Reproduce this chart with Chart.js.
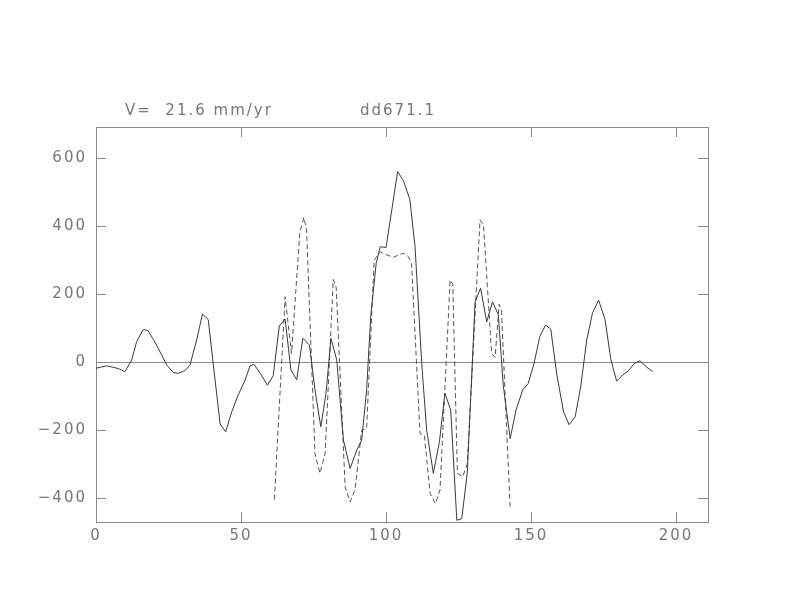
<!DOCTYPE html>
<html>
<head>
<meta charset="utf-8">
<script src="https://cdn.jsdelivr.net/npm/chart.js@4"></script>
<style>
  html, body { margin: 0; padding: 0; background: #fff; }
  canvas { display: block; }
</style>
</head>
<body>
<canvas id="profileChart" width="792" height="612"></canvas>
<script>
// values
var observedX = [0, 3.7, 7.7, 10, 12.3, 14, 16.3, 18, 20.9, 24.4, 26.7, 28.4, 30.7, 32.4, 34.7, 36.7, 38.7, 40.4, 42.8, 44.7,
  46.8, 49, 51.4, 53.1, 54.5, 57, 59.1, 61.1, 63.2, 65.2, 67.2, 69.2, 71.3, 73.6, 75.5, 77.5, 79.3, 81, 83, 85.3,
  87.6, 89.9, 91.6, 93.3, 94.7, 96.6, 98, 100, 104, 106, 108.2, 110, 112.3, 114, 116.3, 118.4, 120.3, 122.3, 124.4, 126.1,
  128, 130.7, 132.6, 134.7, 136.7, 138.7, 140.4, 142.8, 144.8, 147.1, 149, 151, 153, 155, 156.8, 158.8, 161.2, 163.1, 165.2, 167.1,
  169.2, 171.2, 173.3, 175.5, 177.5, 179.5, 181.6, 183.6, 185.6, 187.6, 189.7, 191.9];
var observedY = [-18, -11, -19, -28, 6, 60, 96, 92, 50, -9, -31, -33, -25, -9, 65, 141, 125, -4, -182, -205,
  -146, -97, -53, -11, -7, -38, -68, -40, 106, 127, -23, -52, 70, 50, -82, -190, -92, 70, 6, -229,
  -313, -259, -229, -82, 133, 290, 339, 337, 560, 533, 478, 339, -4, -200, -327, -234, -92, -141, -465, -460,
  -327, 177, 217, 118, 177, 140, -68, -225, -141, -82, -63, -5, 75, 109, 97, -33, -146, -184, -161, -73,
  65, 145, 182, 125, 8, -56, -38, -25, -4, 4, -14, -28];

var modelX = [61.5, 65.2, 67.4, 70.3, 71.7, 72.6, 75.5, 77.2, 79, 81.8, 82.8, 85.9, 87.6, 89.3, 91.6, 93.3, 95.9, 98, 100.2, 102.5,
  104.4, 106, 107.7, 108.8, 111.7, 113.2, 115.2, 117, 118.6, 122.1, 123, 124.6, 126.4, 128, 132.4, 133.6, 136.4, 137.6, 139, 139.8,
  142.8];
var modelY = [-404, 192, 25, 383, 425, 388, -269, -327, -269, 243, 220, -367, -411, -376, -200, -195, 300, 324, 315, 308,
  315, 320, 310, 290, -210, -215, -386, -416, -376, 241, 230, -327, -337, -300, 418, 403, 25, 14, 170, 150,
  -430];

var xTicks = [0, 50, 100, 150, 200];
var yTicks = [-400, -200, 0, 200, 400, 600];
var velocityLabel = "V=  21.6 mm/yr";
var profileLabel = "dd671.1";

function toPoints(xs, ys) {
  return xs.map(function (x, i) { return { x: x, y: ys[i] }; });
}

var axisColor = "#8a8a8a";
var textColor = "#777777";
var textFont = "15px 'DejaVu Sans'";

// frame, inward ticks on all sides, zero line and the two labels on top
var framePlugin = {
  id: "frame",
  beforeDraw: function (chart) {
    chart.ctx.letterSpacing = "2px";
  },
  beforeDatasetsDraw: function (chart) {
    var c = chart.ctx, a = chart.chartArea;
    var xs = chart.scales.x, ys = chart.scales.y;
    c.save();
    c.strokeStyle = axisColor;
    c.lineWidth = 1;
    c.strokeRect(a.left + 0.5, a.top + 0.5, a.right - a.left, a.bottom - a.top);
    c.beginPath();
    xTicks.forEach(function (v) {
      var px = Math.round(xs.getPixelForValue(v)) + 0.5;
      c.moveTo(px, a.bottom); c.lineTo(px, a.bottom - 10);
      c.moveTo(px, a.top); c.lineTo(px, a.top + 10);
    });
    yTicks.forEach(function (v) {
      var py = Math.round(ys.getPixelForValue(v)) + 0.5;
      c.moveTo(a.left, py); c.lineTo(a.left + 10, py);
      c.moveTo(a.right, py); c.lineTo(a.right - 10, py);
    });
    var zy = Math.round(ys.getPixelForValue(0)) + 0.5;
    c.moveTo(a.left, zy); c.lineTo(a.right, zy);
    c.stroke();
    c.fillStyle = textColor;
    c.font = textFont;
    c.textBaseline = "alphabetic";
    c.fillText(velocityLabel, 125, 115);
    c.fillText(profileLabel, 360, 115);
    c.restore();
  }
};

var ctx = document.getElementById("profileChart").getContext("2d");
var profileChart = new Chart(ctx, {
  type: "scatter",
  data: {
    datasets: [
      {
        label: "observed",
        data: toPoints(observedX, observedY),
        showLine: true,
        borderColor: "#3a3a3a",
        borderWidth: 1,
        pointRadius: 0,
        tension: 0
      },
      {
        label: "model",
        data: toPoints(modelX, modelY),
        showLine: true,
        borderColor: "#555555",
        borderWidth: 1,
        borderDash: [5, 3],
        pointRadius: 0,
        tension: 0
      }
    ]
  },
  options: {
    responsive: false,
    animation: false,
    layout: { padding: { left: 0, top: 127, right: 84, bottom: 0 } },
    plugins: { legend: { display: false }, tooltip: { enabled: false } },
    scales: {
      x: {
        type: "linear",
        min: 0,
        max: 211,
        afterFit: function (s) { s.height = 90; },
        afterBuildTicks: function (s) { s.ticks = xTicks.map(function (v) { return { value: v }; }); },
        grid: { display: false, drawTicks: false },
        border: { display: false },
        ticks: { color: textColor, font: { family: "DejaVu Sans", size: 15 }, padding: 5, maxRotation: 0 }
      },
      y: {
        type: "linear",
        min: -470,
        max: 691,
        afterFit: function (s) { s.width = 96; },
        afterBuildTicks: function (s) { s.ticks = yTicks.map(function (v) { return { value: v }; }); },
        grid: { display: false, drawTicks: false },
        border: { display: false },
        ticks: {
          color: textColor,
          font: { family: "DejaVu Sans", size: 15 },
          padding: 9,
          callback: function (v) { return v < 0 ? "\u2212" + Math.abs(v) : String(v); }
        }
      }
    }
  },
  plugins: [framePlugin]
});
</script>
</body>
</html>
